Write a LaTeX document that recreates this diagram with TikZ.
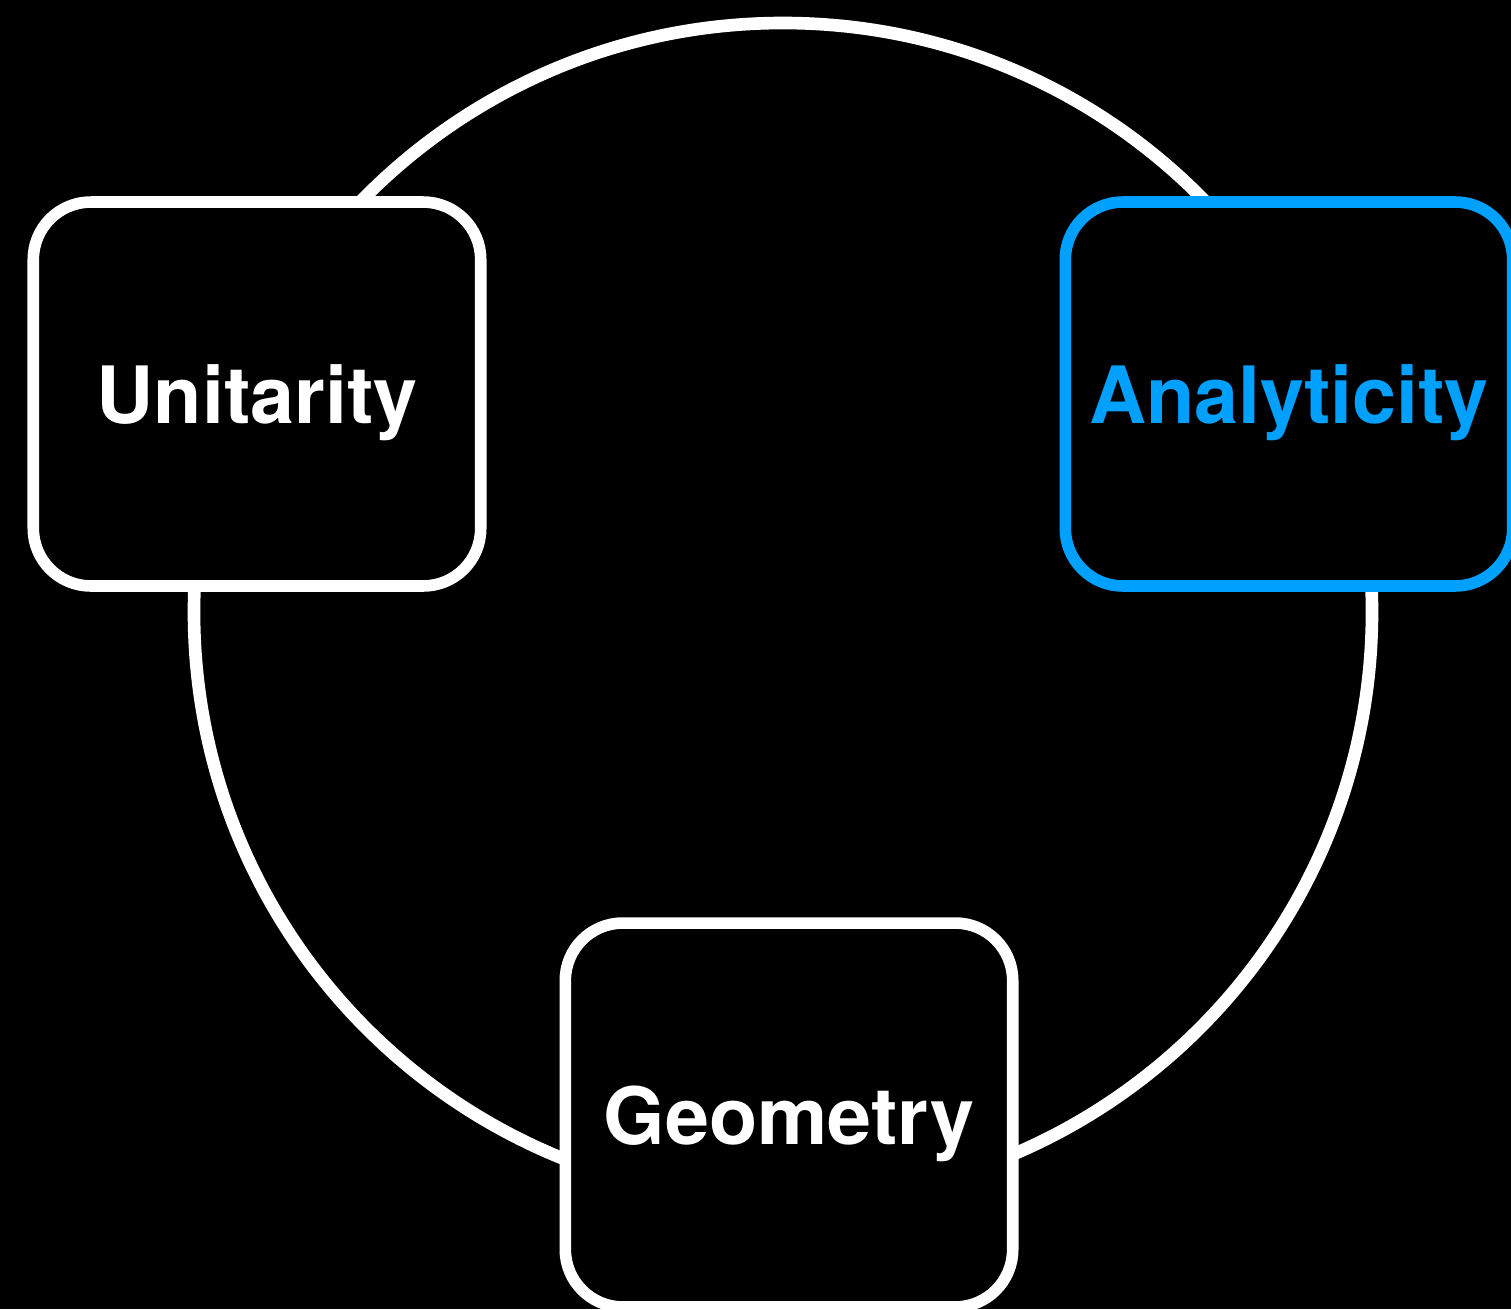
\documentclass[tikz,border=0pt]{standalone}
\usepackage{fontspec}
\setmainfont{TeX Gyre Heros}
\definecolor{skyblue}{RGB}{0,160,255}
\tikzset{
  topic/.style={draw=white,line width=6.6pt,fill=black,rounded corners=1.15cm,
    minimum width=8.95cm,minimum height=7.68cm,text=white,
    font=\fontsize{45}{54}\selectfont\bfseries,text height=1.18cm,text depth=0pt},
  ring/.style={draw=white,line width=7.2pt}
}
\begin{document}
\begin{tikzpicture}[x=0.02cm,y=-0.02cm]
      % background
      \fill[black] (0,0) rectangle (1511,1309);
      \useasboundingbox (0,0) rectangle (1511,1309);
      \clip (0,0) rectangle (1511,1309);
      % ring behind the boxes
      \coordinate (mid) at (783,612);
      \draw[ring] (mid) circle (589*0.02cm);
      % boxes
      \node[topic] (unit) at (257,394) {Unitarity};
      \node[topic,draw=skyblue,text=skyblue] (anal) at (1289,394) {Analyticity};
      \node[topic] (geom) at (789,1115) {Geometry};
    \end{tikzpicture}
\end{document}
